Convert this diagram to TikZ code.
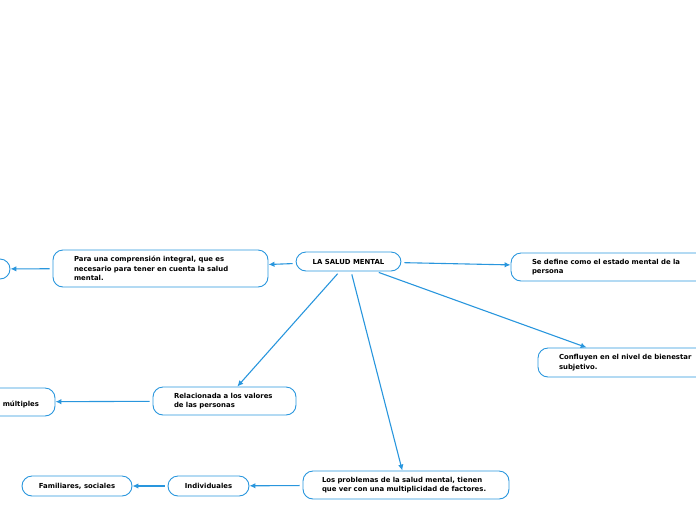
\documentclass[tikz,border=0pt]{standalone}
\usepackage{fontspec}
\setmainfont{DejaVu Sans}
\usepackage{tikz}
\usetikzlibrary{arrows.meta,positioning}
\definecolor{map blue}{RGB}{41,150,221}
\tikzstyle{idea} = [draw=map blue,line width=0.9pt,rounded corners=10pt,font=\fontsize{6.9}{9.5}\selectfont\bfseries,align=left,inner xsep=21pt,inner ysep=0pt]
\tikzstyle{tag} = [idea,align=center,inner xsep=0pt,minimum height=20pt]
\tikzstyle{link} = [map blue,line width=1.1pt,-{Latex[length=6pt,width=5.5pt]},shorten <=3pt]

\begin{document}
\begin{tikzpicture}[x=1pt,y=-1pt]
		\useasboundingbox (0,0) rectangle (696,520);
		\node[tag,minimum width=105pt,minimum height=19pt] (1) at (348.5,261.5) {LA SALUD MENTAL};
		\node[idea,text width=173pt,minimum height=37pt] (2) at (160.5,268.5) {Para una comprensión integral, que es\\necesario para tener en cuenta la salud\\mental.};
		\node[tag,minimum width=110pt] (3) at (-45,269) {};
		\node[idea,text width=158pt,minimum height=28pt] (4) at (611,267) {Se define como el estado mental de la\\persona};
		\node[idea,text width=138pt,minimum height=29pt] (5) at (628,362.5) {Confluyen en el nivel de bienestar\\subjetivo.};
		\node[idea,text width=101pt,minimum height=28pt] (6) at (224.5,401) {Relacionada a los valores\\de las personas};
		\node[idea,align=right,inner xsep=16pt,text width=128pt,minimum height=28pt] (7) at (-25,402) {\mbox{}\\múltiples};
		\node[idea,inner xsep=19pt,text width=168pt,minimum height=28pt] (8) at (406,485) {Los problemas de la salud mental, tienen\\que ver con una multiplicidad de factores.};
		\node[tag,minimum width=81pt] (9) at (208.5,486) {Individuales};
		\node[tag,minimum width=110pt] (10) at (77,486) {Familiares, sociales};

		\draw[link] (1) to (2);
		\draw[link] (2) to (3);
		\draw[link] (1) to (4);
		\draw[link] (1) to (5);
		\draw[link] (1) to (6);
		\draw[link] (6) to (7);
		\draw[link] (1) to (8);
		\draw[link] (8) to (9);
		\draw[link] (9) to (10);
	\end{tikzpicture}
\end{document}
